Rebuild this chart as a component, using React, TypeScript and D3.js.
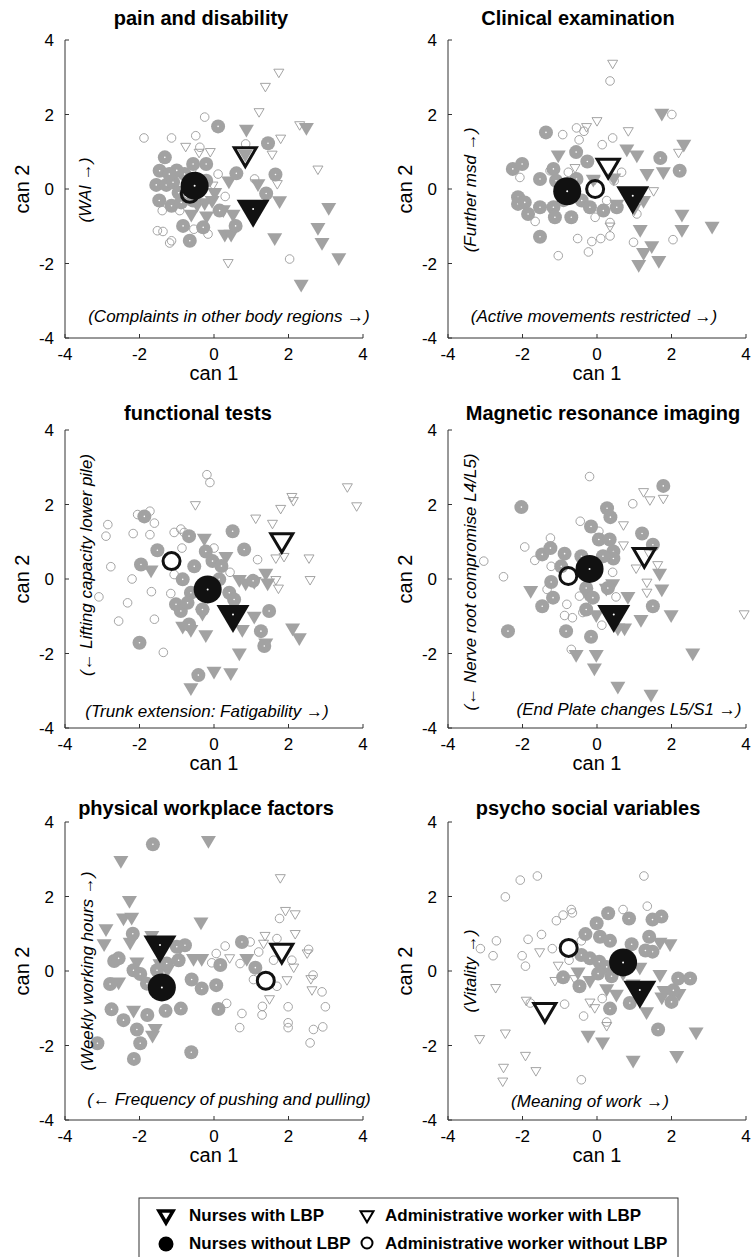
import React from "react";
import * as d3 from "d3";

type Pt = [number, number];

const ticks = [-4, -2, 0, 2, 4];

// pain and disability
const painNursesLbp: Pt[] = [[0.87,1.61],[2.48,1.66],[0.84,0.94],[0.40,0.22],[1.18,0.15],[0.02,-0.09],[1.76,-0.31],[-0.25,-0.36],[-0.61,-0.67],[-0.2,-0.72],[0.51,-0.67],[0.29,-1.21],[0.46,-1.21],[1.63,-1.30],[3.08,-0.49],[2.79,-1.03],[2.90,-1.43],[3.35,-1.84],[2.34,-2.55],[-0.45,-0.4],[0.25,-0.55],[-0.05,-0.3]];
const painNursesNoLbp: Pt[] = [[0.11,1.68],[1.45,1.23],[0.60,0.42],[1.65,0.39],[1.40,-0.12],[-1.32,0.85],[-1.46,0.49],[-1.55,0.11],[-1.28,0.11],[-1.10,0.18],[-1.47,-0.31],[-1.14,-0.45],[-0.88,-0.36],[-0.56,0.67],[-0.21,0.67],[-0.21,0.22],[-0.79,0.40],[-0.83,-0.99],[-0.65,-1.39],[-0.29,-1.03],[0.15,-0.58],[0.58,-0.99],[-0.56,-0.31],[-1.0,0.5],[-1.2,0.4],[-0.95,-0.1]];
const painAdminLbp: Pt[] = [[1.74,3.14],[1.38,2.76],[1.21,2.08],[2.30,1.73],[1.79,1.37],[-0.76,1.15],[-0.40,0.99],[-0.10,1.01],[1.56,0.94],[2.79,0.54],[1.70,0.15],[-0.03,0.11],[0.38,-1.97]];
const painAdminNoLbp: Pt[] = [[-1.88,1.37],[-1.14,1.37],[-0.25,1.93],[-0.49,1.43],[-0.38,1.12],[0.85,1.21],[0.11,0.40],[1.09,0.27],[-1.39,-0.58],[-0.92,-0.58],[-1.52,-1.12],[-1.37,-1.14],[-1.14,-1.39],[-1.19,-1.45],[-0.54,-1.08],[-0.16,-1.21],[2.03,-1.88],[-0.6,0.5],[0.3,-0.2]];
const painMeans: Pt[] = [[1.05,-0.54],[-0.52,0.09],[0.84,0.94],[-0.65,-0.13]];

// clinical examination
const clinNursesLbp: Pt[] = [[1.74,2.04],[2.33,1.21],[0.80,1.08],[1.07,0.92],[-1.04,0.92],[1.34,0.42],[1.78,0.47],[1.25,-0.30],[2.28,-0.67],[2.28,-1.08],[3.09,-0.99],[1.16,-1.08],[1.47,-1.52],[1.25,-1.70],[1.12,-2.02],[1.66,-1.91],[0.53,-0.40],[-0.10,0.27],[0.45,0.3],[1.0,-0.5]];
const clinNursesNoLbp: Pt[] = [[-1.37,1.52],[-0.56,0.99],[-0.26,0.74],[1.70,0.83],[2.22,0.49],[-2.26,0.54],[-2.01,0.67],[-2.12,-0.22],[-2.12,-0.40],[-1.94,-0.36],[-1.85,-0.67],[-1.53,0.27],[-1.17,0.54],[-1.10,0.22],[-1.53,-0.49],[-1.17,-0.49],[-1.13,-0.76],[-0.69,-0.76],[-0.55,0.27],[-0.41,-0.31],[-0.19,-0.49],[0.17,-0.58],[0.53,-0.49],[-1.53,-1.28],[-0.9,-0.3]];
const clinAdminLbp: Pt[] = [[0.42,3.38],[0.0,1.84],[-0.28,1.68],[0.84,1.57],[2.19,0.99],[-0.59,0.58],[-0.05,0.27],[1.52,-0.04],[0.35,-0.99]];
const clinAdminNoLbp: Pt[] = [[0.35,2.90],[2.01,2.00],[-0.55,1.64],[-0.35,1.55],[-0.92,1.46],[-0.48,1.32],[0.42,1.37],[0.14,1.19],[-2.07,0.31],[-1.26,0.49],[-0.77,0.45],[0.66,0.45],[0.46,0.22],[-1.66,-0.87],[-0.05,-0.76],[0.26,-0.31],[0.35,-0.90],[-0.52,-1.33],[-0.14,-1.41],[0.10,-1.33],[0.35,-1.26],[-1.04,-1.79],[-0.23,-1.69],[0.98,-1.43],[2.04,-1.36],[1.07,-0.67]];
const clinMeans: Pt[] = [[0.96,-0.18],[-0.80,-0.06],[0.30,0.63],[-0.05,0.0]];

// functional tests
const funcNursesLbp: Pt[] = [[-0.26,1.10],[-1.69,0.25],[0.32,0.61],[0.68,-0.01],[0.85,-0.10],[1.08,-0.06],[1.39,0.16],[1.44,-0.10],[-0.31,-0.91],[-0.62,-1.35],[-0.22,-1.49],[0.76,-1.35],[1.08,-0.99],[1.39,-1.71],[2.11,-1.31],[2.29,-1.57],[0.68,-1.98],[0.00,-2.47],[0.45,-2.51],[-0.62,-2.91],[-0.84,-1.26]];
const funcNursesNoLbp: Pt[] = [[-1.87,1.68],[-1.52,0.77],[-1.96,0.39],[-0.67,1.15],[0.50,1.28],[0.81,0.79],[-0.22,0.74],[-0.04,0.48],[-0.53,0.34],[-0.84,-0.01],[-0.62,-0.37],[-1.02,-0.68],[-0.89,-0.86],[-0.71,-0.64],[-0.31,-0.82],[0.41,-0.37],[0.54,-0.55],[-0.67,-1.22],[1.48,-0.86],[1.26,-1.40],[1.35,-1.80],[-2.0,-1.71],[-0.42,-2.58],[0.14,-0.01],[1.05,-0.05],[0.2,0.35]];
const funcAdminLbp: Pt[] = [[3.58,2.48],[3.83,1.97],[2.09,2.22],[2.13,2.11],[1.79,1.90],[-0.50,2.0],[1.12,1.64],[1.57,1.50],[2.55,0.57],[2.58,-0.01],[1.66,0.57],[1.88,0.61],[1.66,-0.01],[1.73,-0.24]];
const funcAdminNoLbp: Pt[] = [[-0.19,2.80],[-0.11,2.59],[-2.05,1.73],[-1.72,1.82],[-1.83,1.68],[-1.60,1.50],[-2.85,1.46],[-2.90,1.15],[-2.17,1.22],[-1.72,1.19],[-1.07,1.25],[-0.89,1.34],[-0.80,1.25],[-0.86,0.83],[0.0,0.83],[-2.77,0.33],[-2.20,0.0],[-3.09,-0.48],[-2.32,-0.64],[-1.68,-0.34],[-1.16,-0.39],[-2.56,-1.13],[-1.60,-1.08],[-1.36,-1.97],[1.17,0.52],[0.43,0.18],[-1.07,0.12]];
const funcMeans: Pt[] = [[0.51,-0.95],[-0.17,-0.28],[1.82,1.05],[-1.14,0.48]];

// magnetic resonance imaging
const mriNursesLbp: Pt[] = [[-1.78,-0.30],[-0.56,-2.02],[-0.02,-2.02],[-0.07,-2.38],[0.56,-2.87],[1.45,-3.09],[2.57,-1.98],[1.68,0.16],[1.74,-0.26],[1.99,-0.95],[1.18,-1.08],[0.83,-0.46],[0.74,-1.31],[0.56,-1.31],[0.42,-0.12],[0.25,-0.24],[-0.02,-0.95],[-0.29,-0.37]];
const mriNursesNoLbp: Pt[] = [[1.78,2.50],[-2.03,1.93],[0.27,1.90],[0.36,1.66],[-0.16,1.41],[1.21,1.22],[0.05,1.06],[0.34,1.06],[0.44,0.74],[0.44,0.55],[1.50,0.92],[-1.47,0.66],[-1.25,0.83],[-0.87,0.68],[-0.42,0.61],[0.16,0.61],[-0.96,0.34],[-1.23,-0.08],[-1.18,-0.50],[-1.47,-0.73],[-0.29,-0.24],[-0.11,-0.50],[-0.29,-0.82],[-0.83,-1.40],[-0.16,-1.55],[-2.39,-1.40],[1.50,-0.73],[0.29,-0.24]];
const mriAdminLbp: Pt[] = [[1.25,2.35],[1.42,2.13],[1.78,2.17],[0.71,1.46],[0.71,0.92],[1.05,0.30],[1.63,0.39],[1.34,-0.08],[1.34,-0.35],[3.95,-0.93],[1.4,0.7]];
const mriAdminNoLbp: Pt[] = [[-0.20,2.75],[0.96,2.02],[-0.45,1.55],[0.05,1.28],[-1.25,1.10],[-1.94,0.86],[-1.67,0.50],[-3.04,0.48],[-2.51,0.06],[-1.23,0.34],[0.42,0.18],[-1.34,-0.28],[-0.47,-0.46],[0.51,-0.48],[-0.81,-0.68],[-0.87,-0.98],[-0.66,-1.04],[-0.38,-0.90],[0.13,-1.24],[-0.69,-1.89]];
const mriMeans: Pt[] = [[0.45,-0.95],[-0.20,0.27],[1.27,0.65],[-0.77,0.08]];

// physical workplace factors
const physNursesLbp: Pt[] = [[-0.15,3.51],[-2.50,2.97],[-2.27,1.90],[-2.43,1.43],[-2.21,1.45],[-2.90,1.14],[-2.95,0.74],[-2.25,0.78],[-0.35,1.32],[-1.67,0.96],[-2.07,0.25],[-0.91,0.65],[-0.55,0.34],[-0.33,0.34],[0.88,0.34],[-2.56,-0.29],[-2.16,-1.05],[-1.58,-1.54],[-1.65,-1.72],[-1.45,0.2],[-1.25,0.05]];
const physNursesNoLbp: Pt[] = [[-1.64,3.40],[-2.18,1.00],[-2.68,0.27],[-2.56,0.34],[-2.16,0.02],[-1.98,-0.08],[-1.80,-0.34],[-2.79,-0.35],[-1.53,0.02],[-1.27,0.20],[-0.95,0.29],[-0.78,0.69],[-0.60,-0.23],[-0.33,-0.47],[0.06,-0.38],[0.17,0.16],[0.75,0.78],[1.11,0.09],[0.12,-1.02],[-2.75,-1.03],[-2.43,-1.32],[-2.07,-1.57],[-1.79,-1.18],[-1.30,-1.07],[-0.89,-1.01],[-1.98,-1.94],[-3.13,-1.94],[-2.15,-2.36],[-0.61,-2.18],[-1.0,0.65]];
const physAdminLbp: Pt[] = [[1.78,2.51],[1.92,1.63],[2.18,1.54],[2.18,1.01],[1.37,0.96],[1.33,0.75],[0.42,0.36],[2.50,0.49],[2.14,0.11],[1.96,-0.23],[2.60,-0.20],[2.63,-0.50],[1.49,-0.74]];
const physAdminNoLbp: Pt[] = [[1.76,1.41],[0.97,0.78],[1.20,0.51],[1.69,0.87],[0.30,0.67],[0.06,0.47],[-0.06,0.22],[0.70,0.20],[1.60,0.29],[2.09,0.29],[2.54,0.58],[1.06,-0.23],[1.69,-0.41],[2.66,-0.11],[2.90,-0.56],[2.99,-0.96],[1.99,-0.96],[0.34,-0.87],[0.75,-1.14],[1.29,-1.18],[0.69,-1.52],[1.99,-1.39],[1.99,-1.52],[2.67,-1.57],[2.92,-1.50],[2.58,-1.93],[1.3,-0.95]];
const physMeans: Pt[] = [[-1.45,0.70],[-1.40,-0.44],[1.82,0.55],[1.39,-0.26]];

// psycho social variables
const psyNursesLbp: Pt[] = [[1.96,0.74],[1.69,0.78],[-0.51,-0.02],[-0.19,-0.25],[0.26,-0.47],[0.52,-0.62],[0.97,-0.34],[1.15,0.11],[1.69,-0.09],[1.80,-0.52],[1.74,-0.69],[1.33,-1.09],[-0.24,-1.72],[0.15,-1.90],[0.97,-2.39],[2.14,-2.26],[2.66,-1.63],[0.7,-0.05],[2.2,-0.6]];
const psyNursesNoLbp: Pt[] = [[0.30,1.55],[0.86,1.41],[-0.01,1.28],[-0.31,0.99],[0.08,0.92],[0.35,0.81],[0.93,0.72],[1.40,0.92],[1.49,1.38],[1.73,1.46],[1.49,0.52],[-0.42,0.43],[-0.19,0.34],[0.06,0.25],[0.26,0.11],[-0.91,-0.17],[-0.47,-0.41],[0.03,-0.07],[0.39,-0.14],[0.88,-0.86],[0.35,-1.01],[2.18,-0.20],[2.50,-0.20],[2.05,-0.52],[2.00,-0.83],[1.64,-1.57],[1.3,0.55]];
const psyAdminLbp: Pt[] = [[-1.54,0.52],[-1.04,0.16],[-1.13,-0.25],[-2.72,-0.44],[-1.90,-0.78],[-0.19,-0.83],[-0.06,-0.98],[0.26,-1.46],[-3.15,-1.81],[-2.46,-1.66],[-1.92,-2.26],[-2.51,-2.58],[-2.53,-2.95],[-1.64,-2.67],[-0.6,-0.2]];
const psyAdminNoLbp: Pt[] = [[-2.06,2.44],[-1.60,2.55],[1.26,2.55],[-2.46,1.99],[0.70,1.65],[1.35,1.74],[-0.69,1.65],[-0.66,1.56],[-0.91,1.50],[-1.09,1.35],[-1.49,0.98],[-1.85,0.85],[-2.70,0.81],[-3.13,0.60],[-2.79,0.41],[-2.01,0.41],[-1.92,0.13],[-1.20,0.60],[-0.75,0.29],[-0.42,0.81],[-1.79,-0.86],[-0.87,-0.89],[-0.36,-1.21],[0.14,-0.74],[0.26,-1.37],[-0.42,-2.92]];
const psyMeans: Pt[] = [[1.15,-0.51],[0.70,0.23],[-1.40,-1.04],[-0.76,0.62]];

const legendLabels = ["Nurses with LBP", "Nurses without LBP", "Administrative worker with LBP", "Administrative worker without LBP"];

const panels = [
  { title: "pain and disability", xNote: "(Complaints in other body regions →)", yNote: "(WAI →)", nl: painNursesLbp, nn: painNursesNoLbp, al: painAdminLbp, an: painAdminNoLbp, means: painMeans },
  { title: "Clinical examination", xNote: "(Active movements restricted →)", yNote: "(Further msd →)", nl: clinNursesLbp, nn: clinNursesNoLbp, al: clinAdminLbp, an: clinAdminNoLbp, means: clinMeans },
  { title: "functional tests", xNote: "(Trunk extension: Fatigability →)", yNote: "(← Lifting capacity lower pile)", nl: funcNursesLbp, nn: funcNursesNoLbp, al: funcAdminLbp, an: funcAdminNoLbp, means: funcMeans },
  { title: "Magnetic resonance imaging", xNote: "(End Plate changes L5/S1 →)", yNote: "(← Nerve root compromise L4/L5)", nl: mriNursesLbp, nn: mriNursesNoLbp, al: mriAdminLbp, an: mriAdminNoLbp, means: mriMeans },
  { title: "physical workplace factors", xNote: "(← Frequency of pushing and pulling)", yNote: "(Weekly working hours →)", nl: physNursesLbp, nn: physNursesNoLbp, al: physAdminLbp, an: physAdminNoLbp, means: physMeans },
  { title: "psycho social variables", xNote: "(Meaning of work →)", yNote: "(Vitality →)", nl: psyNursesLbp, nn: psyNursesNoLbp, al: psyAdminLbp, an: psyAdminNoLbp, means: psyMeans },
];

// where each panel sits on the page
const layout = [
  { left: 65, top: 40, titleX: 201, titleY: 25, xNoteX: 229, xNoteY: 322, yNoteX: 91, yNoteY: 190 },
  { left: 448, top: 40, titleX: 578, titleY: 25, xNoteX: 594, xNoteY: 322, yNoteX: 476, yNoteY: 190 },
  { left: 65, top: 430, titleX: 198, titleY: 420, xNoteX: 207, xNoteY: 717, yNoteX: 92, yNoteY: 565 },
  { left: 448, top: 430, titleX: 603, titleY: 420, xNoteX: 629, xNoteY: 715, yNoteX: 476, yNoteY: 582 },
  { left: 65, top: 822, titleX: 206, titleY: 815, xNoteX: 229, xNoteY: 1105, yNoteX: 93, yNoteY: 971 },
  { left: 448, top: 822, titleX: 588, titleY: 815, xNoteX: 590, xNoteY: 1107, yNoteX: 476, yNoteY: 971 },
];

const SIZE = 298;
const FONT = "'Liberation Sans', Arial, Helvetica, sans-serif";
const GREY = "#a2a2a2";

// downward triangle, centred on its centroid
function tri(w: number) {
  const h = w * 0.85;
  return `M${-w / 2},${-h / 3}L${w / 2},${-h / 3}L0,${(2 * h) / 3}Z`;
}

function Panel({ p, l }: { p: (typeof panels)[number]; l: (typeof layout)[number] }) {
  const x = d3.scaleLinear().domain([-4, 4]).range([l.left, l.left + SIZE]);
  const y = d3.scaleLinear().domain([-4, 4]).range([l.top + SIZE, l.top]);
  const bottom = y(-4);
  const [mNl, mNn, mAl, mAn] = p.means;
  return (
    <g>
      <text x={l.titleX} y={l.titleY} textAnchor="middle" fontSize={20} fontWeight="bold">{p.title}</text>

      {p.an.map((d, i) => (
        <circle key={"an" + i} cx={x(d[0])} cy={y(d[1])} r={4.3} fill="none" stroke="#9a9a9a" strokeWidth={0.9} />
      ))}
      {p.al.map((d, i) => (
        <path key={"al" + i} d={tri(10)} transform={`translate(${x(d[0])},${y(d[1])})`} fill="none" stroke="#9a9a9a" strokeWidth={0.9} />
      ))}
      {p.nl.map((d, i) => (
        <path key={"nl" + i} d={tri(15)} transform={`translate(${x(d[0])},${y(d[1])})`} fill={GREY} />
      ))}
      {p.nn.map((d, i) => (
        <g key={"nn" + i}>
          <circle cx={x(d[0])} cy={y(d[1])} r={7} fill={GREY} />
          <circle cx={x(d[0])} cy={y(d[1])} r={0.8} fill="#fff" />
        </g>
      ))}

      <circle cx={x(mAn[0])} cy={y(mAn[1])} r={8.5} fill="none" stroke="#111" strokeWidth={3} />
      <path d={tri(22)} transform={`translate(${x(mAl[0])},${y(mAl[1])})`} fill="none" stroke="#111" strokeWidth={3} strokeLinejoin="miter" />
      <circle cx={x(mNn[0])} cy={y(mNn[1])} r={14} fill="#111" />
      <circle cx={x(mNn[0])} cy={y(mNn[1])} r={1} fill="#fff" />
      <path d={tri(33)} transform={`translate(${x(mNl[0])},${y(mNl[1])})`} fill="#111" />
      <circle cx={x(mNl[0])} cy={y(mNl[1])} r={1} fill="#fff" />

      <line x1={l.left} x2={l.left} y1={l.top} y2={bottom} stroke="#333" />
      <line x1={l.left} x2={l.left + SIZE} y1={bottom} y2={bottom} stroke="#333" />
      {ticks.map((t) => (
        <g key={"t" + t}>
          <line x1={x(t)} x2={x(t)} y1={bottom} y2={bottom - 4} stroke="#333" />
          <line x1={l.left} x2={l.left + 4} y1={y(t)} y2={y(t)} stroke="#333" />
          <text x={x(t)} y={bottom + 22} textAnchor="middle" fontSize={17}>{t}</text>
          <text x={l.left - 11} y={y(t) + 6} textAnchor="end" fontSize={17}>{t}</text>
        </g>
      ))}
      <text x={(l.left + l.left + SIZE) / 2} y={bottom + 42} textAnchor="middle" fontSize={20}>can 1</text>
      <text transform={`translate(${l.left - 36},${l.top + SIZE / 2}) rotate(-90)`} textAnchor="middle" fontSize={20}>can 2</text>

      <text x={l.xNoteX} y={l.xNoteY} textAnchor="middle" fontSize={17} fontStyle="italic">{p.xNote}</text>
      <text transform={`translate(${l.yNoteX},${l.yNoteY}) rotate(-90)`} textAnchor="middle" fontSize={17} fontStyle="italic">{p.yNote}</text>
    </g>
  );
}

function Legend() {
  return (
    <g fontSize={17} fontWeight="bold">
      <rect x={139} y={1198} width={539} height={70} fill="#fff" stroke="#333" />
      <path d={tri(14)} transform="translate(166,1215)" fill="#fff" stroke="#000" strokeWidth={3.5} />
      <circle cx={166} cy={1244} r={7.5} fill="#000" />
      <path d={tri(13)} transform="translate(367,1215)" fill="none" stroke="#000" strokeWidth={2} />
      <circle cx={367} cy={1243} r={5.5} fill="none" stroke="#000" strokeWidth={2} />
      <text x={189} y={1221}>{legendLabels[0]}</text>
      <text x={189} y={1249}>{legendLabels[1]}</text>
      <text x={385} y={1221}>{legendLabels[2]}</text>
      <text x={385} y={1249}>{legendLabels[3]}</text>
    </g>
  );
}

export default function App() {
  return (
    <>
      <style>{`body{margin:0}`}</style>
      <svg width={753} height={1257} style={{ display: "block", fontFamily: FONT }}>
        <rect width={753} height={1257} fill="#fff" />
        {panels.map((p, i) => (
          <Panel key={i} p={p} l={layout[i]} />
        ))}
        <Legend />
      </svg>
    </>
  );
}
